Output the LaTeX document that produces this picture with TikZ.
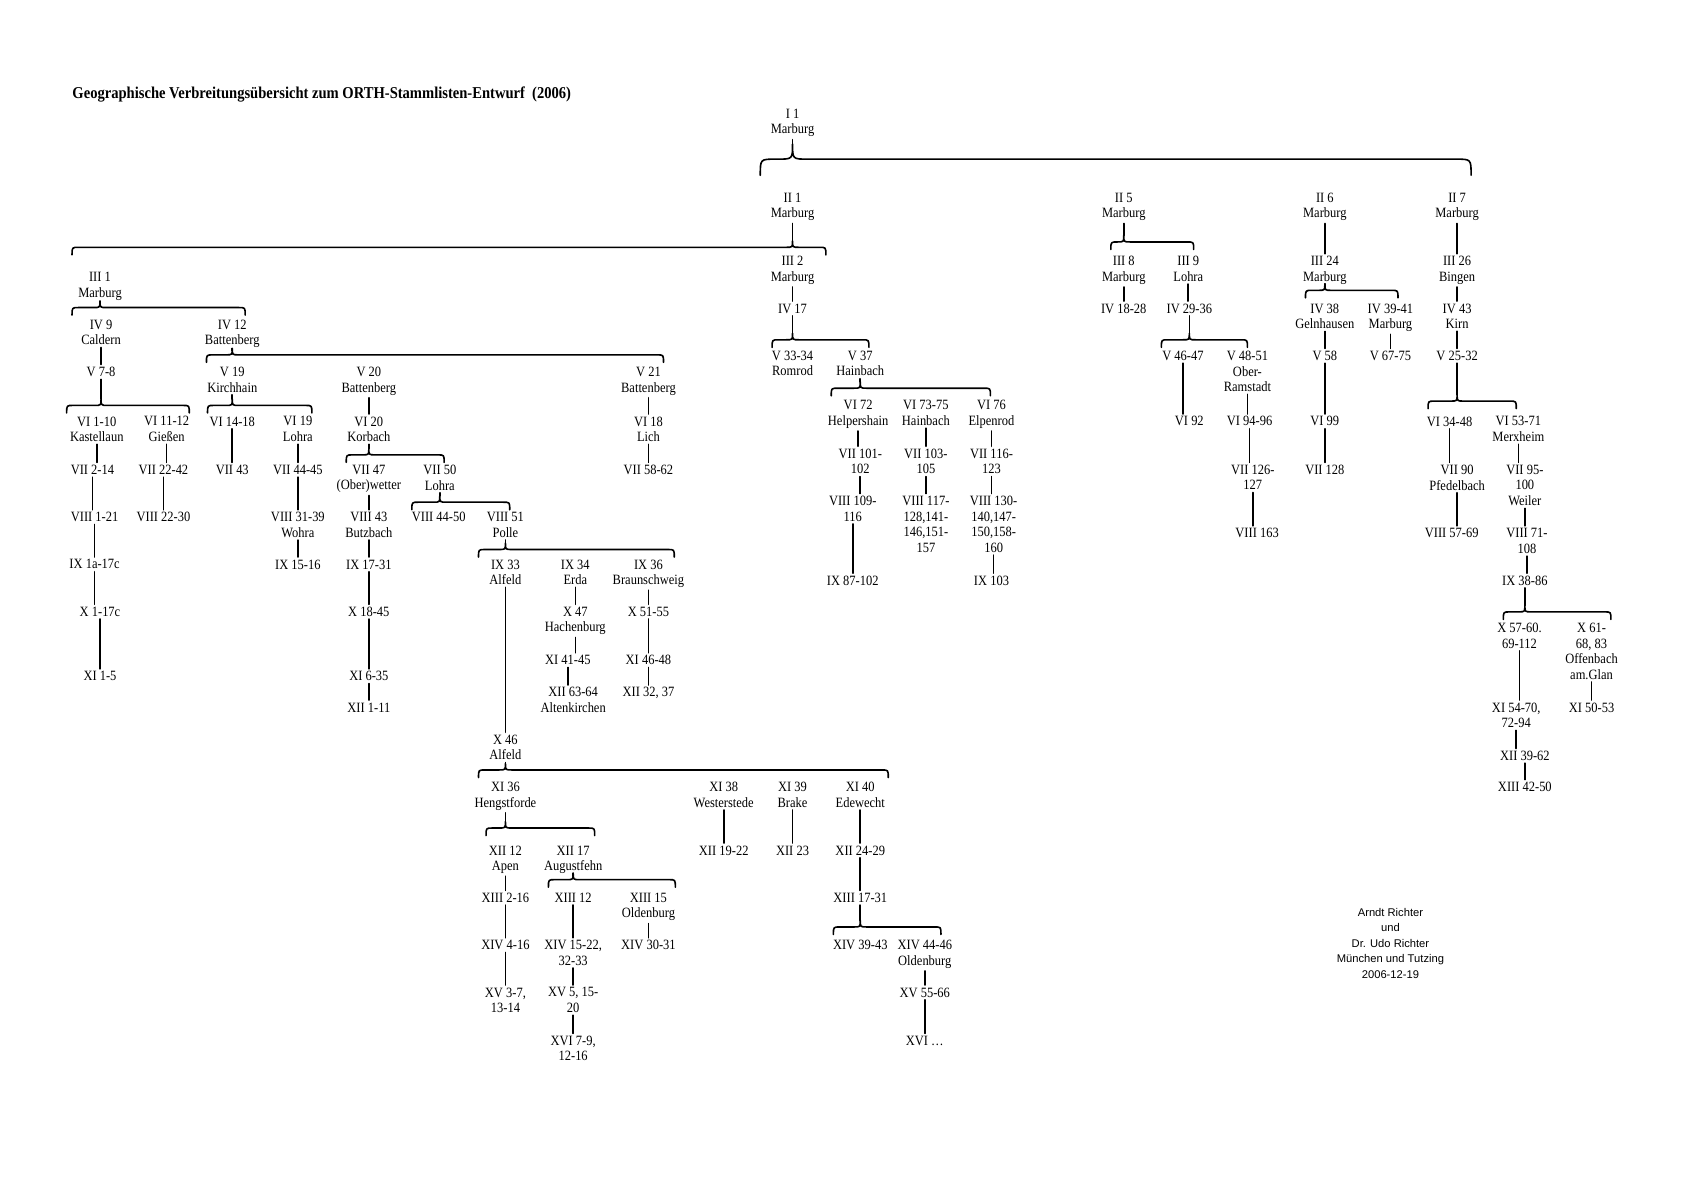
\documentclass[tikz,border=0pt]{standalone}
\usepackage{fontspec}
\setmainfont{Liberation Serif}[FakeStretch=0.88]
\newfontfamily\sigfont{Liberation Sans}
\usepackage{tikz}
\usetikzlibrary{calc}

\newcommand{\lbfont}{\fontsize{6.6}{7.25}\selectfont}
\newcommand{\stem}[2]{\draw[conn] (#1.south) -- (#1.south |- #2.north);}
\newcommand{\fork}[5][6]{%
  \coordinate (#2-bar) at (0,#5);
  \coordinate (#2-tip) at ($(#2.south |- #2-bar)+(0,-#1)$);
  \draw[conn] (#2.south) -- (#2-tip);
  \draw[conn] (#3,#5+#1+1) .. controls (#3,#5) .. (#3+#1,#5) -- ($(#2-tip)+(-#1,#1)$)
    .. controls ($(#2-tip)+(0,#1)$) .. (#2-tip) .. controls ($(#2-tip)+(0,#1)$) .. ($(#2-tip)+(#1,#1)$)
    -- (#4-#1,#5) .. controls (#4,#5) .. (#4,#5+#1+1);}

\begin{document}
\begin{tikzpicture}[x=0.5pt,y=-0.5pt,line cap=round,line join=round,
  lbl/.style={align=center,anchor=north,inner sep=1pt,yshift=2.5pt,font=\lbfont},
  conn/.style={line width=0.75pt}]
\useasboundingbox (0,0) rectangle (1566,1106);
\node[anchor=west,inner sep=0,font=\bfseries\fontsize{7.7}{9}\selectfont] (title) at (67,88) {Geographische Verbreitungsübersicht zum ORTH-Stammlisten-Entwurf\ \ (2006)};
\node[lbl] (i1) at (737,104) {I 1\\Marburg};
\node[lbl] (ii1) at (737,182) {II 1\\Marburg};
\node[lbl] (ii5) at (1045,182) {II 5\\Marburg};
\node[lbl] (ii6) at (1232,182) {II 6\\Marburg};
\node[lbl] (ii7) at (1355,182) {II 7\\Marburg};
\node[lbl] (iii1) at (93,256) {III 1\\Marburg};
\node[lbl] (iii2) at (737,241) {III 2\\Marburg};
\node[lbl] (iii8) at (1045,241) {III 8\\Marburg};
\node[lbl] (iii9) at (1105,241) {III 9\\Lohra};
\node[lbl] (iii24) at (1232,241) {III 24\\Marburg};
\node[lbl] (iii26) at (1355,241) {III 26\\Bingen};
\node[lbl] (iv9) at (94,300) {IV 9\\Caldern};
\node[lbl] (iv12) at (216,300) {IV 12\\Battenberg};
\node[lbl] (iv17) at (737,285) {IV 17};
\node[lbl] (iv1828) at (1045,285) {IV 18-28};
\node[lbl] (iv2936) at (1106,285) {IV 29-36};
\node[lbl] (iv38) at (1232,285) {IV 38\\Gelnhausen};
\node[lbl] (iv3941) at (1293,285) {IV 39-41\\Marburg};
\node[lbl] (iv43) at (1355,285) {IV 43\\Kirn};
\node[lbl] (v78) at (94,344) {V 7-8};
\node[lbl] (v19) at (216,344) {V 19\\Kirchhain};
\node[lbl] (v20) at (343,344) {V 20\\Battenberg};
\node[lbl] (v21) at (603,344) {V 21\\Battenberg};
\node[lbl] (v3334) at (737,329) {V 33-34\\Romrod};
\node[lbl] (v37) at (800,329) {V 37\\Hainbach};
\node[lbl] (v4647) at (1100,329) {V 46-47};
\node[lbl] (v4851) at (1160,329) {V 48-51\\Ober-\\Ramstadt};
\node[lbl] (v58) at (1232,329) {V 58};
\node[lbl] (v6775) at (1293,329) {V 67-75};
\node[lbl] (v2532) at (1355,329) {V 25-32};
\node[lbl] (vi110) at (90,390) {VI 1-10\\Kastellaun};
\node[lbl] (vi1112) at (155,390) {VI 11-12\\Gießen};
\node[lbl] (vi1418) at (216,390) {VI 14-18};
\node[lbl] (vi19) at (277,390) {VI 19\\Lohra};
\node[lbl] (vi20) at (343,390) {VI 20\\Korbach};
\node[lbl] (vi18) at (603,390) {VI 18\\Lich};
\node[lbl] (vi72) at (798,375) {VI 72\\Helpershain};
\node[lbl] (vi7375) at (861,375) {VI 73-75\\Hainbach};
\node[lbl] (vi76) at (922,375) {VI 76\\Elpenrod};
\node[lbl] (vi92) at (1106,390) {VI 92};
\node[lbl] (vi9496) at (1162,390) {VI 94-96};
\node[lbl] (vi99) at (1232,390) {VI 99};
\node[lbl] (vi3448) at (1348,390) {VI 34-48};
\node[lbl] (vi5371) at (1412,390) {VI 53-71\\Merxheim};
\node[lbl] (vii214) at (86,435) {VII 2-14};
\node[lbl] (vii2242) at (152,435) {VII 22-42};
\node[lbl] (vii43) at (216,435) {VII 43};
\node[lbl] (vii4445) at (277,435) {VII 44-45};
\node[lbl] (vii47) at (343,435) {VII 47\\(Ober)wetter};
\node[lbl] (vii50) at (409,435) {VII 50\\Lohra};
\node[lbl] (vii5862) at (603,435) {VII 58-62};
\node[lbl] (vii101) at (800,420) {VII 101-\\102};
\node[lbl] (vii103) at (861,420) {VII 103-\\105};
\node[lbl] (vii116) at (922,420) {VII 116-\\123};
\node[lbl] (vii126) at (1165,435) {VII 126-\\127};
\node[lbl] (vii128) at (1232,435) {VII 128};
\node[lbl] (vii90) at (1355,435) {VII 90\\Pfedelbach};
\node[lbl] (vii95) at (1418,435) {VII 95-\\100\\Weiler};
\node[lbl] (viii121) at (88,479) {VIII 1-21};
\node[lbl] (viii2230) at (152,479) {VIII 22-30};
\node[lbl] (viii3139) at (277,479) {VIII 31-39\\Wohra};
\node[lbl] (viii43) at (343,479) {VIII 43\\Butzbach};
\node[lbl] (viii4450) at (408,479) {VIII 44-50};
\node[lbl] (viii51) at (470,479) {VIII 51\\Polle};
\node[lbl] (viii109) at (793,464) {VIII 109-\\116};
\node[lbl] (viii117) at (861,464) {VIII 117-\\128,141-\\146,151-\\157};
\node[lbl] (viii130) at (924,464) {VIII 130-\\140,147-\\150,158-\\160};
\node[lbl] (viii163) at (1169,494) {VIII 163};
\node[lbl] (viii5769) at (1350,494) {VIII 57-69};
\node[lbl] (viii71) at (1420,494) {VIII 71-\\108};
\node[lbl] (ix1a) at (88,523) {IX 1a-17c};
\node[lbl] (ix1516) at (277,523) {IX 15-16};
\node[lbl] (ix1731) at (343,523) {IX 17-31};
\node[lbl] (ix33) at (470,523) {IX 33\\Alfeld};
\node[lbl] (ix34) at (535,523) {IX 34\\Erda};
\node[lbl] (ix36) at (603,523) {IX 36\\Braunschweig};
\node[lbl] (ix87) at (793,538) {IX 87-102};
\node[lbl] (ix103) at (922,538) {IX 103};
\node[lbl] (ix3886) at (1418,538) {IX 38-86};
\node[lbl] (x117c) at (93,567) {X 1-17c};
\node[lbl] (x1845) at (343,567) {X 18-45};
\node[lbl] (x47) at (535,567) {X 47\\Hachenburg};
\node[lbl] (x5155) at (603,567) {X 51-55};
\node[lbl] (x46) at (470,686) {X 46\\Alfeld};
\node[lbl] (x5760) at (1413,582) {X 57-60.\\69-112};
\node[lbl] (x6168) at (1480,582) {X 61-\\68, 83\\Offenbach\\am.Glan};
\node[lbl] (xi15) at (93,627) {XI 1-5};
\node[lbl] (xi635) at (343,627) {XI 6-35};
\node[lbl] (xi4145) at (528,612) {XI 41-45};
\node[lbl] (xi4648) at (603,612) {XI 46-48};
\node[lbl] (xi36) at (470,730) {XI 36\\Hengstforde};
\node[lbl] (xi38) at (673,730) {XI 38\\Westerstede};
\node[lbl] (xi39) at (737,730) {XI 39\\Brake};
\node[lbl] (xi40) at (800,730) {XI 40\\Edewecht};
\node[lbl] (xi5470) at (1410,656) {XI 54-70,\\72-94};
\node[lbl] (xi5053) at (1480,656) {XI 50-53};
\node[lbl] (xii111) at (343,656) {XII 1-11};
\node[lbl] (xii6364) at (533,642) {XII 63-64\\Altenkirchen};
\node[lbl] (xii3237) at (603,642) {XII 32, 37};
\node[lbl] (xii12) at (470,789) {XII 12\\Apen};
\node[lbl] (xii17) at (533,789) {XII 17\\Augustfehn};
\node[lbl] (xii1922) at (673,789) {XII 19-22};
\node[lbl] (xii23) at (737,789) {XII 23};
\node[lbl] (xii2429) at (800,789) {XII 24-29};
\node[lbl] (xii3962) at (1418,701) {XII 39-62};
\node[lbl] (xiii216) at (470,833) {XIII 2-16};
\node[lbl] (xiii12) at (533,833) {XIII 12};
\node[lbl] (xiii15) at (603,833) {XIII 15\\Oldenburg};
\node[lbl] (xiii1731) at (800,833) {XIII 17-31};
\node[lbl] (xiii4250) at (1418,730) {XIII 42-50};
\node[lbl] (xiv416) at (470,877) {XIV 4-16};
\node[lbl] (xiv1522) at (533,877) {XIV 15-22,\\32-33};
\node[lbl] (xiv3031) at (603,877) {XIV 30-31};
\node[lbl] (xiv3943) at (800,877) {XIV 39-43};
\node[lbl] (xiv4446) at (860,877) {XIV 44-46\\Oldenburg};
\node[lbl] (xv37) at (470,921) {XV 3-7,\\13-14};
\node[lbl] (xv515) at (533,921) {XV 5, 15-\\20};
\node[lbl] (xv5566) at (860,921) {XV 55-66};
\node[lbl] (xvi79) at (533,966) {XVI 7-9,\\12-16};
\node[lbl] (xvidots) at (860,966) {XVI …};
\node[align=center,anchor=north,inner sep=0,font=\sigfont\fontsize{5.2}{7.25}\selectfont] (sig) at (1293,844) {Arndt Richter\\und\\Dr. Udo Richter\\München und Tutzing\\2006-12-19};
\fork[14]{i1}{707}{1368}{148}
\fork{ii1}{67}{768}{230}
\fork{ii5}{1033}{1110}{225}
\stem{ii6}{iii24}
\stem{ii7}{iii26}
\fork{iii1}{67}{228}{286}
\stem{iii2}{iv17}
\stem{iii8}{iv1828}
\stem{iii9}{iv2936}
\fork{iii24}{1214}{1300}{270}
\stem{iii26}{iv43}
\stem{iv9}{v78}
\fork{iv12}{192}{617}{330}
\fork{iv17}{718}{808}{316}
\fork{iv2936}{1080}{1160}{316}
\stem{iv38}{v58}
\stem{iv3941}{v6775}
\stem{iv43}{v2532}
\fork{v78}{62}{176}{377}
\fork{v19}{193}{290}{377}
\stem{v20}{vi20}
\stem{v21}{vi18}
\fork{v37}{773}{921}{361}
\stem{v4647}{vi92}
\stem{v4851}{vi9496}
\stem{v58}{vi99}
\fork{v2532}{1328}{1410}{373}
\stem{vi110}{vii214}
\stem{vi1112}{vii2242}
\stem{vi1418}{vii43}
\stem{vi19}{vii4445}
\fork{vi20}{322}{413}{423}
\stem{vi18}{vii5862}
\stem{vi72}{vii101}
\stem{vi7375}{vii103}
\stem{vi76}{vii116}
\stem{vi9496}{vii126}
\stem{vi99}{vii128}
\stem{vi3448}{vii90}
\stem{vi5371}{vii95}
\stem{vii214}{viii121}
\stem{vii2242}{viii2230}
\stem{vii4445}{viii3139}
\stem{vii47}{viii43}
\fork{vii50}{383}{474}{467}
\stem{vii101}{viii109}
\stem{vii103}{viii117}
\stem{vii116}{viii130}
\stem{vii126}{viii163}
\stem{vii90}{viii5769}
\stem{vii95}{viii71}
\stem{viii121}{ix1a}
\stem{viii3139}{ix1516}
\stem{viii43}{ix1731}
\fork{viii51}{445}{627}{511}
\stem{viii109}{ix87}
\stem{viii130}{ix103}
\stem{viii71}{ix3886}
\stem{ix1a}{x117c}
\stem{ix1731}{x1845}
\stem{ix34}{x47}
\stem{ix36}{x5155}
\stem{ix33}{x46}
\fork{ix3886}{1398}{1498}{569}
\stem{x117c}{xi15}
\stem{x1845}{xi635}
\stem{x47}{xi4145}
\stem{x5155}{xi4648}
\fork{x46}{445}{826}{716}
\stem{x5760}{xi5470}
\stem{x6168}{xi5053}
\stem{xi635}{xii111}
\stem{xi4145}{xii6364}
\stem{xi4648}{xii3237}
\fork{xi36}{452}{553}{770}
\stem{xi38}{xii1922}
\stem{xi39}{xii23}
\stem{xi40}{xii2429}
\stem{xi5470}{xii3962}
\stem{xii12}{xiii216}
\fork{xii17}{510}{628}{818}
\stem{xii2429}{xiii1731}
\stem{xii3962}{xiii4250}
\stem{xiii216}{xiv416}
\stem{xiii12}{xiv1522}
\stem{xiii15}{xiv3031}
\fork{xiii1731}{775}{875}{862}
\stem{xiv416}{xv37}
\stem{xiv1522}{xv515}
\stem{xiv4446}{xv5566}
\stem{xv515}{xvi79}
\stem{xv5566}{xvidots}
\end{tikzpicture}
\end{document}
